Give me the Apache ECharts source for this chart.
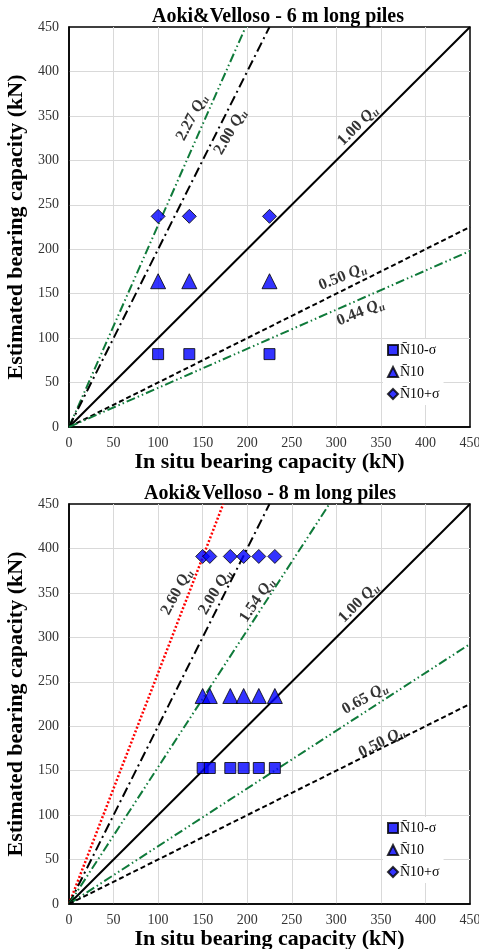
<!DOCTYPE html>
<html><head><meta charset="utf-8">
<script src="https://cdn.jsdelivr.net/npm/echarts@6/dist/echarts.min.js"></script>
<style>html,body{margin:0;padding:0;background:#fff}#c{width:479px;height:949px}</style>
</head><body><div id="c"></div>
<script>
// ---------- data ----------
const seriesNames = ['N\u030410-\u03c3', 'N\u030410', 'N\u030410+\u03c3'];
const titles = ['Aoki&Velloso - 6 m long piles', 'Aoki&Velloso - 8 m long piles'];
const xName = 'In situ bearing capacity (kN)';
const yName = 'Estimated bearing capacity (kN)';

// 6 m piles
const top_x = [100, 135, 225];
const top_lower = [82, 82, 82];
const top_mean = [164, 164, 164];
const top_upper = [237, 237, 237];

// 8 m piles
const bot_x = [150, 158, 181, 196, 213, 231];
const bot_lower = [153, 153, 153, 153, 153, 153];
const bot_mean = [234, 234, 234, 234, 234, 234];
const bot_upper = [391, 391, 391, 391, 391, 391];

// reference lines k*Qu : [label, endpoint]
const top_ratios = ['2.27', '2.00', '1.00', '0.50', '0.44'];
const top_ends = [[198.2, 450], [225, 450], [450, 450], [450, 225], [450, 198]];
const bot_ratios = ['2.60', '2.00', '1.54', '1.00', '0.65', '0.50'];
const bot_ends = [[173.1, 450], [225, 450], [292.2, 450], [450, 450], [450, 292.5], [450, 225]];

// ---------- styles ----------
const GREEN = '#0f7a3a';
const styles = {
  '2.60': {color: '#ff0000', width: 2.5, type: [2, 2]},
  '2.27': {color: GREEN, width: 2, type: [9, 3, 1.5, 3, 1.5, 3]},
  '2.00': {color: '#000', width: 2, type: [10, 4, 2, 4]},
  '1.54': {color: GREEN, width: 2, type: [9, 3, 1.5, 3, 1.5, 3]},
  '1.00': {color: '#000', width: 2, type: 'solid'},
  '0.65': {color: GREEN, width: 2, type: [9, 3, 1.5, 3, 1.5, 3]},
  '0.50': {color: '#000', width: 2, type: [5, 3]},
  '0.44': {color: GREEN, width: 2, type: [9, 3, 1.5, 3, 1.5, 3]}
};
// label anchor (data coords) and rotation
const top_lbl = {'2.27': [138, 348, 62], '2.00': [181, 332, 60], '1.00': [324, 339, 45], '0.50': [307, 169, 22], '0.44': [327, 129, 22]};
const bot_lbl = {'2.60': [121, 351, 62], '2.00': [164, 351, 59], '1.54': [211, 342, 56], '1.00': [325, 339, 45], '0.65': [332, 231, 29], '0.50': [351, 182, 27]};

const SERIF = '"Liberation Serif", "Times New Roman", serif';
const chart = echarts.init(document.getElementById('c'), null, {renderer: 'canvas'});

const grids = [
  {left: 69, top: 27, width: 401, height: 400, show: true, borderColor: '#000', borderWidth: 1.5, backgroundColor: 'transparent', containLabel: false, outerBoundsMode: 'none'},
  {left: 69, top: 504, width: 401, height: 400, show: true, borderColor: '#000', borderWidth: 1.5, backgroundColor: 'transparent', containLabel: false, outerBoundsMode: 'none'}
];
function axis(gi, isX) {
  return {
    type: 'value', gridIndex: gi, min: 0, max: 450, interval: 50,
    name: isX ? xName : yName, nameLocation: 'middle', nameGap: isX ? 14 : 33,
    nameTextStyle: {fontFamily: SERIF, fontWeight: 'bold', fontSize: 22, color: '#000'},
    axisLine: {show: true, lineStyle: {color: '#000', width: 1.5}},
    axisTick: {show: false},
    axisLabel: {fontFamily: SERIF, fontSize: 14, color: '#333', margin: isX ? 9 : 10},
    splitLine: {show: true, showMinLine: false, showMaxLine: false, lineStyle: {color: '#d9d9d9', width: 1}}
  };
}
const series = [];
function addScatter(gi, xs, ys, name, symbol, size) {
  series.push({
    type: 'scatter', name, xAxisIndex: gi, yAxisIndex: gi, symbol, symbolSize: size,
    itemStyle: {color: '#0000ff', borderColor: '#000', borderWidth: 1},
    data: xs.map((x, i) => [x, ys[i]]), z: 5
  });
}
function addLines(gi, ratios, ends, lbl) {
  ratios.forEach((r, i) => {
    const s = styles[r];
    series.push({
      type: 'line', xAxisIndex: gi, yAxisIndex: gi, showSymbol: false, silent: true,
      data: [[0, 0], ends[i]], lineStyle: {color: s.color, width: s.width, type: s.type}, z: 3
    });
    const L = lbl[r];
    series.push({
      type: 'scatter', xAxisIndex: gi, yAxisIndex: gi, symbolSize: 1, silent: true,
      itemStyle: {color: 'rgba(0,0,0,0)'}, data: [[L[0], L[1]]], z: 4,
      label: {
        show: true, position: 'inside', rotate: L[2],
        color: '#000', fontFamily: SERIF, fontWeight: 'bold', fontSize: 16, textBorderWidth: 0,
        formatter: '{n|' + r + ' }{q|Q}{u|u}',
        rich: {
          n: {fontFamily: SERIF, fontWeight: 'bold', fontSize: 16, color: '#000', lineHeight: 19},
          q: {fontFamily: SERIF, fontWeight: 'bold', fontStyle: 'italic', fontSize: 16, color: '#000', lineHeight: 19},
          u: {fontFamily: SERIF, fontWeight: 'bold', fontStyle: 'italic', fontSize: 11, color: '#000', lineHeight: 11, verticalAlign: 'bottom'}
        }
      }
    });
  });
}
addLines(0, top_ratios, top_ends, top_lbl);
addLines(1, bot_ratios, bot_ends, bot_lbl);
addScatter(0, top_x, top_lower, seriesNames[0], 'rect', 11);
addScatter(0, top_x, top_mean, seriesNames[1], 'triangle', 15);
addScatter(0, top_x, top_upper, seriesNames[2], 'diamond', 14);
addScatter(1, bot_x, bot_lower, seriesNames[0], 'rect', 11);
addScatter(1, bot_x, bot_mean, seriesNames[1], 'triangle', 15);
addScatter(1, bot_x, bot_upper, seriesNames[2], 'diamond', 14);

function legend(top) {
  return {
    data: seriesNames, orient: 'vertical', left: 383, top, itemGap: 8, itemWidth: 10, itemHeight: 10,
    backgroundColor: '#fff', padding: [4, 4, 4, 4], selectedMode: false,
    textStyle: {fontFamily: SERIF, fontSize: 14, color: '#000', padding: [0, 0, 0, -3]}
  };
}

chart.setOption({
  animation: false,
  backgroundColor: '#fff',
  grid: grids,
  xAxis: [axis(0, true), axis(1, true)],
  yAxis: [axis(0, false), axis(1, false)],
  legend: [legend(339), legend(817)],
  graphic: [
    {type: 'text', x: 278, y: 17, style: {text: titles[0], font: 'bold 20px ' + SERIF, fill: '#000', align: 'center', verticalAlign: 'middle'}},
    {type: 'text', x: 270, y: 494, style: {text: titles[1], font: 'bold 20px ' + SERIF, fill: '#000', align: 'center', verticalAlign: 'middle'}}
  ],
  series
});
</script>
</body></html>
